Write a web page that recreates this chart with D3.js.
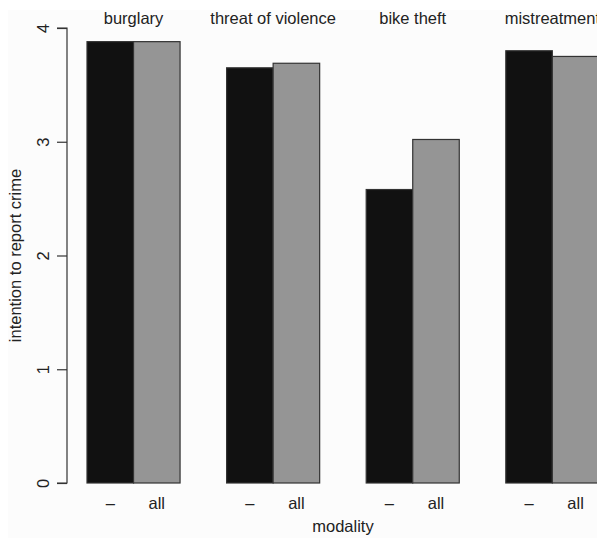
<!DOCTYPE html>
<html>
<head>
<meta charset="utf-8">
<script src="https://cdn.jsdelivr.net/npm/d3@7"></script>
<style>
  html, body { margin: 0; padding: 0; background: #ffffff; }
  svg { display: block; }
  text { font-family: "Liberation Sans", Arial, sans-serif; fill: #222; }
</style>
</head>
<body>
<svg id="chart" width="597" height="538"></svg>
<script>
// Crime types (panels) and the two modality conditions
const crimes = ["burglary", "threat of violence", "bike theft", "mistreatment"];
const modalities = ["–", "all"];
// Mean intention to report crime, per crime and modality
const noneValues = [3.88, 3.65, 2.58, 3.80];
const allValues  = [3.88, 3.69, 3.02, 3.75];
const yTicks = [0, 1, 2, 3, 4];

const svg = d3.select("#chart");
const W = 597, H = 538;
const FS = 16.5;

// plotting area background
svg.append("rect").attr("x", 8).attr("y", 10).attr("width", W - 8).attr("height", H - 10)
  .attr("fill", "#fcfcfc");

const y = d3.scaleLinear().domain([0, 4]).range([483, 28]);
// bar units: each group holds two unit-wide bars, one unit of space before each group
const x = d3.scaleLinear().domain([1, 4]).range([87, 226.6]);

const bars = [];
crimes.forEach((c, i) => {
  bars.push({ crime: c, mod: 0, value: noneValues[i], u: 1 + 3 * i });
  bars.push({ crime: c, mod: 1, value: allValues[i], u: 2 + 3 * i });
});
const fills = ["#111111", "#959595"];

const plot = svg.append("g");
plot.selectAll("rect.bar").data(bars).join("rect")
  .attr("class", "bar")
  .attr("x", d => x(d.u))
  .attr("width", d => x(d.u + 1) - x(d.u))
  .attr("y", d => y(d.value))
  .attr("height", d => y(0) - y(d.value))
  .attr("fill", d => fills[d.mod])
  .attr("stroke", "#333")
  .attr("stroke-width", 1.2);

// panel titles
svg.selectAll("text.title").data(crimes).join("text")
  .attr("class", "title")
  .attr("x", (d, i) => x(2 + 3 * i))
  .attr("y", 24)
  .attr("text-anchor", "middle")
  .attr("font-size", FS)
  .text(d => d);

// modality labels under each bar
svg.selectAll("text.mod").data(bars).join("text")
  .attr("class", "mod")
  .attr("x", d => x(d.u + 0.5))
  .attr("y", 509)
  .attr("text-anchor", "middle")
  .attr("font-size", FS)
  .text(d => modalities[d.mod]);

// y axis
const yAxis = d3.axisLeft(y).tickValues(yTicks).tickSize(10).tickPadding(0).tickFormat(d3.format("d"));
const ga = svg.append("g").attr("transform", "translate(67,0)").call(yAxis);
ga.select(".domain").attr("stroke", "#333").attr("stroke-width", 1.2)
  .attr("d", `M-10,${y(4)}H0V${y(0)}H-10`);
ga.selectAll(".tick line").attr("stroke", "#333").attr("stroke-width", 1.2);
ga.selectAll(".tick text")
  .attr("x", null).attr("dy", null)
  .attr("transform", "translate(-18,0) rotate(-90)")
  .attr("text-anchor", "middle")
  .attr("font-size", FS)
  .attr("font-family", "Liberation Sans, Arial, sans-serif")
  .attr("fill", "#222");

// axis titles
svg.append("text")
  .attr("transform", "translate(21,255.5) rotate(-90)")
  .attr("text-anchor", "middle")
  .attr("font-size", FS)
  .text("intention to report crime");

svg.append("text")
  .attr("x", 343).attr("y", 532)
  .attr("text-anchor", "middle")
  .attr("font-size", FS)
  .text("modality");
</script>
</body>
</html>
